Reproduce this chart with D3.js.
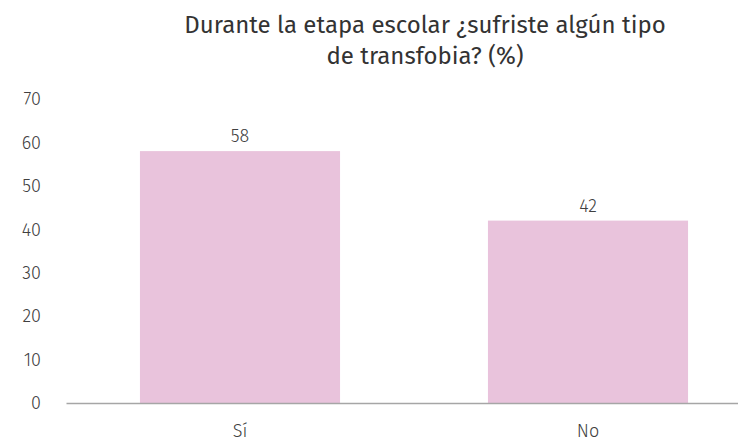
<!DOCTYPE html>
<html>
<head>
<meta charset="utf-8">
<script src="https://cdn.jsdelivr.net/npm/d3@7"></script>
<style>
  body { margin: 0; background: #fff; }
  svg { display: block; }
  svg text { font-family: "Fira Sans", "Open Sans", sans-serif; }
  .tick text { fill: #404040; font-size: 18px; font-weight: 300; }
</style>
</head>
<body>
<svg id="chart" width="738" height="444"></svg>
<script>
var categories = ["Sí", "No"];
var values = [58, 42];
var yTicks = [0, 10, 20, 30, 40, 50, 60, 70];
var titleLines = ["Durante la etapa escolar ¿sufriste algún tipo", "de transfobia? (%)"];

var svg = d3.select("#chart");

var x = d3.scaleBand()
    .domain(categories)
    .range([66, 762])
    .paddingInner(0.425)
    .paddingOuter(0.2125);

var y = d3.scaleLinear()
    .domain([0, 70])
    .range([403, 99]);

// title
svg.append("text")
    .attr("text-anchor", "middle")
    .attr("fill", "#333")
    .style("font-size", "24px")
  .selectAll("tspan")
  .data(titleLines)
  .enter().append("tspan")
    .attr("x", 425)
    .attr("y", function(d, i) { return 33 + i * 31; })
    .text(function(d) { return d; });

// y axis (labels only)
svg.append("g")
    .attr("transform", "translate(41,0)")
    .call(d3.axisLeft(y).tickValues(yTicks).tickSize(0).tickPadding(0))
    .call(function(g) { g.select(".domain").remove(); });

// bars
svg.append("g").selectAll("rect")
    .data(values)
  .enter().append("rect")
    .attr("x", function(d, i) { return x(categories[i]); })
    .attr("y", function(d) { return y(d); })
    .attr("width", x.bandwidth())
    .attr("height", function(d) { return y(0) - y(d); })
    .attr("fill", "#e9c3dc");

// value labels
svg.append("g").selectAll("text")
    .data(values)
  .enter().append("text")
    .attr("x", function(d, i) { return x(categories[i]) + x.bandwidth() / 2; })
    .attr("y", function(d) { return y(d) - 9; })
    .attr("text-anchor", "middle")
    .attr("fill", "#404040")
    .style("font-size", "18px")
    .style("font-weight", 300)
    .text(function(d) { return d; });

// x axis
var xAxis = svg.append("g")
    .attr("transform", "translate(0," + y(0) + ")")
    .call(d3.axisBottom(x).tickSize(0).tickPadding(21).tickSizeOuter(0));
xAxis.select(".domain")
    .attr("stroke", "#a6a6a6")
    .attr("stroke-width", 1.5);
</script>
</body>
</html>
